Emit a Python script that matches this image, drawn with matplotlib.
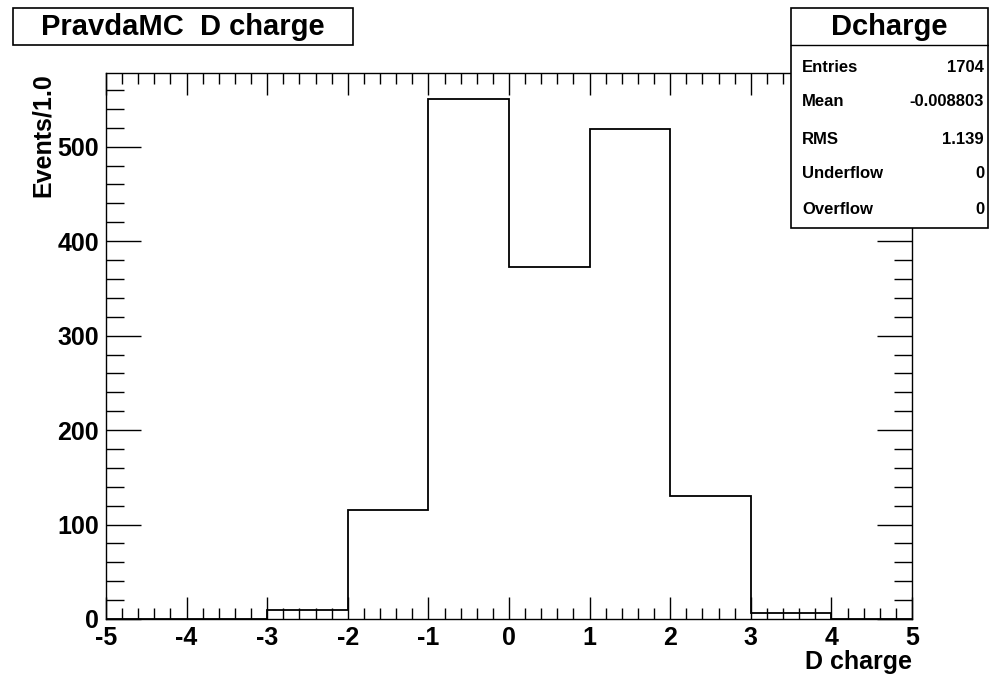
import matplotlib
matplotlib.use("Agg")
import matplotlib.pyplot as plt
import numpy as np
from matplotlib.patches import Rectangle
from matplotlib.lines import Line2D
from matplotlib.ticker import MultipleLocator

plt.rcParams['font.family'] = ['Liberation Sans', 'DejaVu Sans']
plt.rcParams['font.weight'] = 'bold'
plt.rcParams['axes.unicode_minus'] = False

# D charge histogram, unit bins from -5 to 5
bin_edges = [-5, -4, -3, -2, -1, 0, 1, 2, 3, 4, 5]
counts = [0, 0, 10, 115, 551, 373, 519, 130, 6, 0]

stat_names = ["Entries", "Mean", "RMS", "Underflow", "Overflow"]
stat_values = ["1704", "-0.008803", "1.139", "0", "0"]

W, H = 989, 677
fig = plt.figure(figsize=(W / 100, H / 100), dpi=100)
ax = fig.add_axes([106 / W, 1 - 619 / H, (912 - 106) / W, (619 - 73) / H])

ax.stairs(counts, bin_edges, color='black', linewidth=1.3)
ax.set_xlim(-5, 5)
ax.set_ylim(0, 578)

ax.xaxis.set_major_locator(MultipleLocator(1))
ax.xaxis.set_minor_locator(MultipleLocator(0.2))
ax.yaxis.set_major_locator(MultipleLocator(100))
ax.yaxis.set_minor_locator(MultipleLocator(20))
ax.tick_params(which='both', direction='in', top=True, right=True, width=1.0, labelsize=18)
ax.tick_params(axis='x', which='major', length=16, pad=5)
ax.tick_params(axis='x', which='minor', length=8)
ax.tick_params(axis='y', which='major', length=25, pad=5)
ax.tick_params(axis='y', which='minor', length=13)
for lab in ax.get_xticklabels() + ax.get_yticklabels():
    lab.set_fontweight('bold')
for s in ax.spines.values():
    s.set_linewidth(1.0)

fig.text(912 / W, 1 - 662 / H, "D charge", ha='right', va='center', fontsize=18, fontweight='bold')
fig.text(43 / W, 1 - 73 / H, "Events/1.0", ha='center', va='top', rotation=90,
         fontsize=18, fontweight='bold')

# title box
fig.patches.append(Rectangle((13 / W, 1 - 45 / H), (353 - 13) / W, 37 / H, transform=fig.transFigure,
                             facecolor='white', edgecolor='black', linewidth=1.2, zorder=5))
fig.text(183 / W, 1 - 27 / H, "PravdaMC  D charge", ha='center', va='center',
         fontsize=21, fontweight='bold', zorder=6)

# stats box
fig.patches.append(Rectangle((791 / W, 1 - 228 / H), (988 - 791) / W, 220 / H, transform=fig.transFigure,
                             facecolor='white', edgecolor='black', linewidth=1.2, zorder=5))
fig.lines.append(Line2D([791 / W, 988 / W], [1 - 45 / H, 1 - 45 / H], transform=fig.transFigure,
                        color='black', linewidth=1.0, zorder=6))
fig.text(889 / W, 1 - 27 / H, "Dcharge", ha='center', va='center', fontsize=21,
         fontweight='bold', zorder=6)
row_y = [67, 101, 139, 173, 209]
for name, val, y in zip(stat_names, stat_values, row_y):
    fig.text(802 / W, 1 - y / H, name, ha='left', va='center', fontsize=12, fontweight='bold', zorder=6)
    fig.text(984 / W, 1 - y / H, val, ha='right', va='center', fontsize=12, fontweight='bold', zorder=6)

fig.savefig("out.png", dpi=100)
